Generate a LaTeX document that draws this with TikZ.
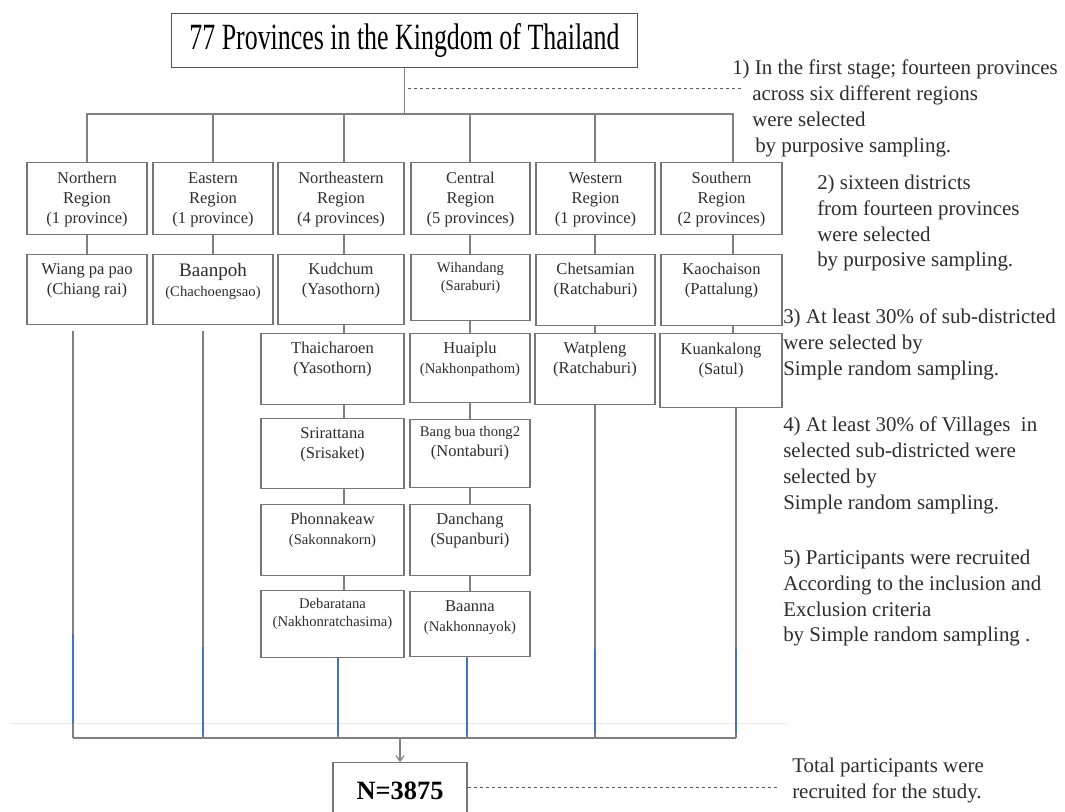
\documentclass[tikz,border=0pt]{standalone}
\usepackage{fontspec}
\setmainfont{Liberation Serif}
\newfontfamily\titlefont[FakeStretch=0.7]{Liberation Serif}
\usetikzlibrary{arrows.meta}
\definecolor{linegray}{RGB}{128,128,128}
\definecolor{boxgray}{RGB}{118,118,118}
\definecolor{textgray}{RGB}{45,45,45}
\definecolor{segblue}{RGB}{68,114,196}
\definecolor{faintgray}{RGB}{232,232,232}
% box text: width, height, first baseline, lines
\newcommand{\cell}[4]{\parbox[c][#2][t]{#1}{\centering\rule{0pt}{#3}#4}}
\newcommand{\sm}{\fontsize{11}{13.5}\selectfont}

\begin{document}
\begin{tikzpicture}[x=0.75pt,y=0.75pt,yscale=-1,xscale=1,
  titlebox/.style={draw={rgb,255:red,85;green,85;blue,85}, line width=1pt, anchor=north, inner sep=0pt,
    minimum width=349.5pt, minimum height=40.5pt, font={\titlefont\fontsize{27.75}{30}\selectfont}},
  cbox/.style={draw=boxgray, line width=0.8pt, inner sep=0pt, anchor=north, text=textgray,
    font={\fontsize{12.4}{15}\selectfont}},
  nbox/.style={draw=boxgray, line width=0.8pt, inner sep=0pt, anchor=north, minimum width=100.5pt,
    minimum height=42pt, font={\bfseries\fontsize{19.8}{22}\selectfont}},
  note/.style={anchor=north west, inner sep=0pt, align=left, text=textgray, font={\fontsize{15.7}{19.4}\selectfont}},
  conn/.style={draw=linegray, line width=0.9pt},
  bus/.style={draw=linegray, line width=2pt},
  blueseg/.style={draw=segblue, line width=0.9pt},
  dashline/.style={draw={rgb,255:red,90;green,90;blue,90}, line width=0.6pt, dash pattern=on 2.25pt off 2.25pt},
  faintline/.style={draw=faintgray, line width=0.5pt}]
\useasboundingbox (0,0) rectangle (1065,812);

% Columns and buses
\coordinate (c1) at (87,0);
\coordinate (c2) at (213,0);
\coordinate (c3) at (344,0);
\coordinate (c4) at (470,0);
\coordinate (c5) at (595,0);
\coordinate (c6) at (733,0);
\coordinate (topbus) at (404,114);
\coordinate (l1) at (73,738);
\coordinate (l2) at (203,738);
\coordinate (l3) at (338,738);
\coordinate (l4) at (467,738);
\coordinate (l5) at (595,738);
\coordinate (l6) at (736,738);
\coordinate (bot) at (400,738);

% Title
\node[titlebox] (title) at (404.5,13) {77 Provinces in the Kingdom of Thailand};

% Regions
\node[cbox] (reg1) at (87,162) {\cell{90pt}{54pt}{15.75pt}{Northern\\Region\\(1 province)}};
\node[cbox] (reg2) at (213,162) {\cell{90pt}{54pt}{15.75pt}{Eastern\\Region\\(1 province)}};
\node[cbox] (reg3) at (341,162) {\cell{94.5pt}{54pt}{15.75pt}{Northeastern\\Region\\(4 provinces)}};
\node[cbox] (reg4) at (470.5,162) {\cell{89.25pt}{54pt}{15.75pt}{Central\\Region\\(5 provinces)}};
\node[cbox] (reg5) at (595.5,162) {\cell{89.25pt}{54pt}{15.75pt}{Western\\Region\\(1 province)}};
\node[cbox] (reg6) at (721.5,162) {\cell{90.75pt}{54pt}{15.75pt}{Southern\\Region\\(2 provinces)}};

% Districts
\node[cbox] (wiang) at (87,254) {\cell{90pt}{52.5pt}{15pt}{Wiang pa pao\\(Chiang rai)}};
\node[cbox] (baanpoh) at (213,254) {\cell{90pt}{52.5pt}{16.5pt}{{\fontsize{14.3}{15}\selectfont Baanpoh}\\{\sm(Chachoengsao)}}};
\node[cbox] (kudchum) at (341,254) {\cell{94.5pt}{52.5pt}{15pt}{Kudchum\\(Yasothorn)}};
\node[cbox] (wihandang) at (470.5,254) {\cell{89.25pt}{49.5pt}{13.5pt}{\sm Wihandang\\(Saraburi)}};
\node[cbox] (chetsamian) at (595.5,254) {\cell{89.25pt}{53.25pt}{15pt}{Chetsamian\\(Ratchaburi)}};
\node[cbox] (kaochaison) at (721.5,254) {\cell{90.75pt}{53.25pt}{15pt}{Kaochaison\\(Pattalung)}};

\node[cbox] (thaicharoen) at (332.5,333) {\cell{107.25pt}{53.25pt}{15pt}{Thaicharoen\\(Yasothorn)}};
\node[cbox] (huaiplu) at (470,333) {\cell{90pt}{51.75pt}{15pt}{Huaiplu\\{\sm(Nakhonpathom)}}};
\node[cbox] (watpleng) at (595,333) {\cell{90pt}{53.25pt}{15pt}{Watpleng\\(Ratchaburi)}};
\node[cbox] (kuankalong) at (721,333) {\cell{91.5pt}{55.5pt}{15.75pt}{Kuankalong\\(Satul)}};

\node[cbox] (srirattana) at (332.5,418) {\cell{107.25pt}{52.5pt}{15pt}{Srirattana\\(Srisaket)}};
\node[cbox] (bangbua) at (470,419) {\cell{90pt}{51pt}{13pt}{{\sm Bang bua thong2}\\(Nontaburi)}};

\node[cbox] (phonnakeaw) at (332.5,504) {\cell{107.25pt}{53.25pt}{15pt}{Phonnakeaw\\{\sm(Sakonnakorn)}}};
\node[cbox] (danchang) at (470,504) {\cell{90pt}{53.25pt}{15pt}{Danchang\\(Supanburi)}};

\node[cbox] (debaratana) at (332.5,590) {\cell{107.25pt}{50.25pt}{13.5pt}{\sm Debaratana\\(Nakhonratchasima)}};
\node[cbox] (baanna) at (470,591) {\cell{90pt}{48.75pt}{15pt}{Baanna\\{\sm(Nakhonnayok)}}};

% Total
\node[nbox] (nbox) at (400,762) {N=3875};

% Notes
\node[note] (note1) at (732,59.6) {1) In the first stage; fourteen provinces\\\hspace*{15pt}across six different regions\\\hspace*{15pt}were selected\\\hspace*{17.25pt}by purposive sampling.};
\node[note] (note2) at (817,174.6) {2) sixteen districts\\from fourteen provinces\\were selected\\by purposive sampling.};
\node[note] (note3) at (783,308.6) {3) At least 30\% of sub-districted\\were selected by\\Simple random sampling.};
\node[note] (note4) at (783,416.6) {4) At least 30\% of Villages~ in\\selected sub-districted were\\selected by\\Simple random sampling.};
\node[note] (note5) at (783,549.6) {5) Participants were recruited\\According to the inclusion and\\Exclusion criteria\\by Simple random sampling .};
\node[note] (total) at (792,757.6) {Total participants were\\recruited for the study.};

%Straight Lines
\draw[faintline] (10,723) -- (787,723);
\draw[conn] (title.south) -- (title.south |- topbus);
\draw[conn] (reg1.north -| c1) |- (topbus) -| (reg6.north -| c6);
\foreach \r/\c in {reg2/c2,reg3/c3,reg4/c4,reg5/c5}
  \draw[conn] (\r.north -| \c) -- (\c |- topbus);
\foreach \a/\b/\c in {reg1/wiang/c1, reg2/baanpoh/c2, reg3/kudchum/c3, kudchum/thaicharoen/c3,
    thaicharoen/srirattana/c3, srirattana/phonnakeaw/c3, phonnakeaw/debaratana/c3,
    reg4/wihandang/c4, wihandang/huaiplu/c4, huaiplu/bangbua/c4, bangbua/danchang/c4,
    danchang/baanna/c4, reg5/chetsamian/c5, chetsamian/watpleng/c5,
    reg6/kaochaison/c6, kaochaison/kuankalong/c6}
  \draw[conn] (\a.south -| \c) -- (\b.north -| \c);
\foreach \a/\l/\g in {wiang/l1/6, baanpoh/l2/6, debaratana/l3/0, baanna/l4/0, watpleng/l5/0, kuankalong/l6/0}
  \draw[conn] (\a.south -| \l) ++(0,\g) -- (\l);
\foreach \l/\s/\e in {l1/634/723, l2/647/735, l3/658/735, l4/658/735, l5/649/733, l6/649/733}
  \draw[blueseg] (\l |- 0,\s) -- (\l |- 0,\e);
\draw[bus] (l1) -- (l6);
\draw[conn, -{Straight Barb[length=4pt,width=6pt]}] (bot) -- (nbox);

%Dashed Lines
\coordinate (d1a) at (408,88);
\coordinate (d1b) at (743,88);
\coordinate (dn) at (778,787);
\draw[dashline] (d1a) -- (d1b);
\draw[dashline] (nbox.east |- dn) -- (dn);

\end{tikzpicture}
\end{document}
